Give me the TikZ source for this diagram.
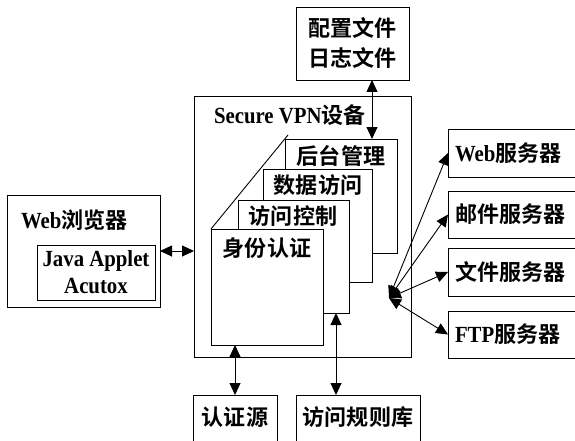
\documentclass[tikz,border=0pt]{standalone}
\usepackage{fontspec}
\setmainfont{Liberation Serif}[Scale=1.1,FakeStretch=0.9]
\newfontfamily\cjk[Scale=1.05,BoldFont={Noto Sans CJK SC Bold}]{Noto Sans CJK SC}
\usetikzlibrary{arrows.meta,calc}
\begin{document}
\begin{tikzpicture}[x=1pt,y=-1pt,
  every node/.style={inner sep=0pt,outer sep=0pt},
  txt/.style={font=\bfseries\fontsize{21}{28}\selectfont},
  box/.style={draw,line width=0.9pt,fill=white},
  card/.style={draw,line width=0.9pt,fill=white},
  link/.style={line width=0.9pt,{Triangle[length=12pt,width=11pt]}-{Triangle[length=12pt,width=11pt]}}
]
\useasboundingbox (0,0) rectangle (575,441);

% configuration box
\node[box,minimum width=113pt,minimum height=73pt] (cfg) at (352.5,43.5) {};
\node[txt,align=center] (cfgt) at (cfg.center) {{\cjk 配置文件}\\[2pt]{\cjk 日志文件}};

% VPN device
\node[box,minimum width=217pt,minimum height=261pt] (vpn) at (302.5,226.5) {};
\node[txt,anchor=west] (vpnt) at (214,115) {Secure VPN{\cjk 设备}};

% diagonal behind cards
\coordinate (diagend) at (288,135);
\node[card,minimum width=112pt,minimum height=116pt] (c1) at (267,287) {};
\draw[line width=0.9pt] (c1.north west) -- (diagend);
\node[card,minimum width=112pt,minimum height=114pt] (c4) at (341,196) {};
\node[txt] (c4t) at (341,156) {\cjk 后台管理};
\node[card,minimum width=109pt,minimum height=113pt] (c3) at (317.5,225.5) {};
\node[txt] (c3t) at (318,185) {\cjk 数据访问};
\node[card,minimum width=111pt,minimum height=113pt] (c2) at (293.5,256.5) {};
\node[txt] (c2t) at (293,216) {\cjk 访问控制};
\node[card,minimum width=112pt,minimum height=116pt] (c1b) at (267,287) {};
\node[txt] (c1t) at (267,248) {\cjk 身份认证};

% web browser
\node[box,minimum width=153pt,minimum height=112pt] (browser) at (83.5,251) {};
\node[txt,anchor=west] (browsert) at (21,220) {Web{\cjk 浏览器}};
\node[box,minimum width=118pt,minimum height=55pt] (applet) at (96,272.5) {};
\node[txt,align=center] (applett) at (applet.center) {Java Applet\\[-1pt]Acutox};

\draw[link] (browser.east) -- (browser.east -| vpn.west);

% servers (right side cut by the picture edge)
\node[minimum width=127pt,minimum height=48pt,anchor=west] (web) at (448,153) {};
\node[minimum width=127pt,minimum height=47pt,anchor=west] (mail) at (448,214.5) {};
\node[minimum width=127pt,minimum height=48pt,anchor=west] (file) at (448,272) {};
\node[minimum width=127pt,minimum height=47pt,anchor=west] (ftp) at (448,334.5) {};
\foreach \s in {web,mail,file,ftp}{
  \draw[line width=0.9pt] (\s.north east) -- (\s.north west) -- (\s.south west) -- (\s.south east);
}
\node[txt,anchor=west] (webt) at (455,153) {Web{\cjk 服务器}};
\node[txt,anchor=west] (mailt) at (455,214.5) {\cjk 邮件服务器};
\node[txt,anchor=west] (filet) at (455,272) {\cjk 文件服务器};
\node[txt,anchor=west] (ftpt) at (455,334.5) {FTP{\cjk 服务器}};

\coordinate (hub) at (389,298);
\foreach \s in {web,mail,file,ftp}{
  \draw[link] (hub) -- (\s.west);
}

% bottom boxes
\node[minimum width=84pt,minimum height=46pt] (auth) at (235,418) {};
\draw[line width=0.9pt] (auth.south west) -- (auth.north west) -- (auth.north east) -- (auth.south east);
\node[txt] (autht) at (235,417) {\cjk 认证源};
\node[minimum width=124pt,minimum height=46pt] (rules) at (358,418) {};
\draw[line width=0.9pt] (rules.south west) -- (rules.north west) -- (rules.north east) -- (rules.south east);
\node[txt] (rulest) at (358,417) {\cjk 访问规则库};

\draw[link] (auth.north) -- (auth.north |- c1b.south);
\draw[link] ([xshift=-13pt]c2.south east) -- ([xshift=-13pt]c2.south east |- rules.north);
\draw[link] ([xshift=-25pt]c4.north east) -- ([xshift=-25pt]c4.north east |- cfg.south);
\end{tikzpicture}
\end{document}
